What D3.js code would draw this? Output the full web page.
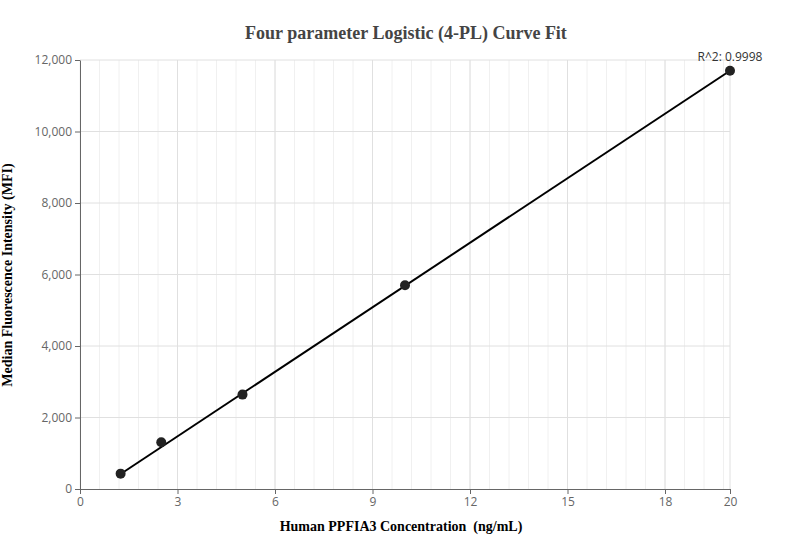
<!DOCTYPE html>
<html><head><meta charset="utf-8">
<script src="https://cdn.jsdelivr.net/npm/d3@7"></script>
<style>
body{margin:0;background:#fff;}
.tick text{font-family:"Open Sans",sans-serif;font-size:12px;fill:#666;}
</style></head>
<body><svg id="chart" width="811" height="560"></svg>
<script>
const concentration = [1.25, 2.5, 5, 10, 20];
const mfi = [430, 1310, 2640, 5700, 11700];
const fitX = [1.25, 20];
const fitY = [420, 11700];
const xTicks = [0, 3, 6, 9, 12, 15, 18, 20];
const yTicks = [0, 2000, 4000, 6000, 8000, 10000, 12000];

const svg = d3.select("#chart");
const x = d3.scaleLinear().domain([0, 20]).range([80, 730]);
const y = d3.scaleLinear().domain([0, 12000]).range([489, 60]);

// minor grid
const minor = d3.range(0, 20.01, 0.6);
svg.selectAll(".minor").data(minor).join("line")
    .attr("x1", d => x(d)).attr("x2", d => x(d)).attr("y1", 60).attr("y2", 489)
    .attr("stroke", "#f0f0f0");
svg.selectAll(".gx").data(xTicks.slice(1)).join("line")
    .attr("x1", d => x(d)).attr("x2", d => x(d)).attr("y1", 60).attr("y2", 489)
    .attr("stroke", "#e0e0e0");
svg.selectAll(".gy").data(yTicks.slice(1)).join("line")
    .attr("x1", 80).attr("x2", 730).attr("y1", d => y(d)).attr("y2", d => y(d))
    .attr("stroke", "#e0e0e0");

const xa = svg.append("g").attr("transform", "translate(0,489)")
    .call(d3.axisBottom(x).tickValues(xTicks).tickSize(5).tickSizeOuter(0));
const ya = svg.append("g").attr("transform", "translate(80,0)")
    .call(d3.axisLeft(y).tickValues(yTicks).tickFormat(d3.format(",")).tickSize(5).tickSizeOuter(0));
[xa, ya].forEach(a => { a.selectAll("path,line").attr("stroke", "#666"); });

svg.append("path")
    .attr("d", d3.line().x(d => x(d[0])).y(d => y(d[1]))(fitX.map((v, i) => [v, fitY[i]])))
    .attr("stroke", "#000").attr("stroke-width", 2).attr("fill", "none");
svg.selectAll(".pt").data(concentration).join("circle")
    .attr("cx", d => x(d)).attr("cy", (d, i) => y(mfi[i])).attr("r", 5)
    .attr("fill", "#222");

svg.append("text").attr("x", 730).attr("y", 61).attr("text-anchor", "middle")
    .attr("font-family", "Open Sans, sans-serif").attr("font-size", 12).attr("fill", "#333")
    .text("R^2: 0.9998");
svg.append("text").attr("x", 406).attr("y", 39).attr("text-anchor", "middle")
    .attr("font-family", "Liberation Serif, serif").attr("font-weight", "bold")
    .attr("font-size", 18).attr("fill", "#444").text("Four parameter Logistic (4-PL) Curve Fit");
svg.append("text").attr("x", 401).attr("y", 531).attr("text-anchor", "middle")
    .attr("font-family", "Liberation Serif, serif").attr("font-weight", "bold")
    .attr("font-size", 14).attr("xml:space", "preserve").text("Human PPFIA3 Concentration  (ng/mL)");
svg.append("text").attr("transform", "translate(12,275) rotate(-90)").attr("text-anchor", "middle")
    .attr("font-family", "Liberation Serif, serif").attr("font-weight", "bold")
    .attr("font-size", 14).text("Median Fluorescence Intensity (MFI)");
</script></body></html>
